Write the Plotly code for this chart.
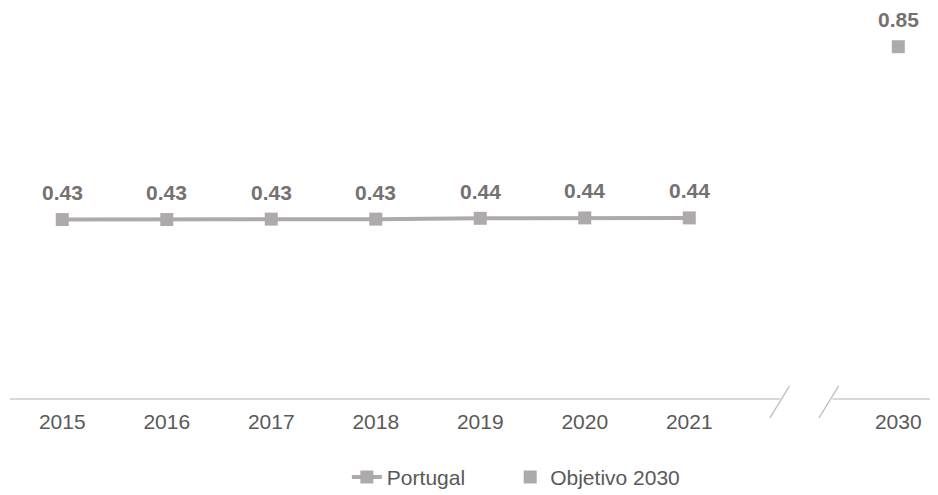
import plotly.graph_objects as go

years = ["2015", "2016", "2017", "2018", "2019", "2020", "2021"]
portugal = [0.433, 0.433, 0.434, 0.434, 0.436, 0.437, 0.437]
target_year = ["2030"]
target = [0.85]

# category positions (index 7 is the axis break)
pos_years = list(range(len(years)))
pos_target = [len(years) + 1]

LINE = "#aeaaaa"
LAB = "#767171"
TICK = "#595959"
AX = "#d9d9d9"
SL = "#bfbfbf"

XR = [-0.5, 8.38]
YR = [0, 0.9]


def px(x):
    return (x - XR[0]) / (XR[1] - XR[0])


def py(y):
    return (y - YR[0]) / (YR[1] - YR[0])


fig = go.Figure()
fig.add_trace(go.Scatter(
    x=pos_years, y=portugal, mode="lines+markers", name="Portugal",
    line=dict(color=LINE, width=4),
    marker=dict(symbol="square", size=13, color=LINE),
    legend="legend",
))
fig.add_trace(go.Scatter(
    x=pos_target, y=target, mode="markers", name="Objetivo 2030",
    marker=dict(symbol="square", size=13, color=LINE),
    legend="legend2",
))

anns = []
for xv, yv in list(zip(pos_years, portugal)) + list(zip(pos_target, target)):
    anns.append(dict(x=xv, y=yv, text=f"<b>{yv:.2f}</b>", showarrow=False,
                     yshift=27, font=dict(size=21, color=LAB, family="Liberation Sans, Arial")))

brk = len(years)  # break position
shapes = [
    dict(type="line", xref="paper", yref="paper", x0=0, x1=px(brk - 0.13), y0=0, y1=0,
         line=dict(color=AX, width=2)),
    dict(type="line", xref="paper", yref="paper", x0=px(brk + 0.37), x1=1, y0=0, y1=0,
         line=dict(color=AX, width=2)),
    dict(type="line", xref="paper", yref="paper", x0=px(brk - 0.23), x1=px(brk - 0.04),
         y0=py(-0.046), y1=py(0.0315), line=dict(color=SL, width=1.3)),
    dict(type="line", xref="paper", yref="paper", x0=px(brk + 0.24), x1=px(brk + 0.43),
         y0=py(-0.046), y1=py(0.0315), line=dict(color=SL, width=1.3)),
]

leg_common = dict(orientation="h", xanchor="left", y=-0.21, yanchor="middle",
                  font=dict(size=21, color=TICK), bgcolor="rgba(0,0,0,0)")

fig.update_layout(
    width=930, height=494,
    margin=dict(l=2, r=0, t=18, b=103),
    paper_bgcolor="white", plot_bgcolor="white",
    font=dict(family="Liberation Sans, Arial", color=TICK),
    showlegend=True,
    legend=dict(x=0.363, **leg_common),
    legend2=dict(x=0.539, **leg_common),
    annotations=anns, shapes=shapes,
    xaxis=dict(range=XR, tickmode="array",
               tickvals=pos_years + pos_target, ticktext=years + target_year,
               showgrid=False, zeroline=False, showline=False,
               ticks="outside", ticklen=4, tickcolor="rgba(0,0,0,0)",
               tickfont=dict(size=21, color=TICK), automargin=False),
    yaxis=dict(range=YR, visible=False),
)

fig.write_html("out.html")
